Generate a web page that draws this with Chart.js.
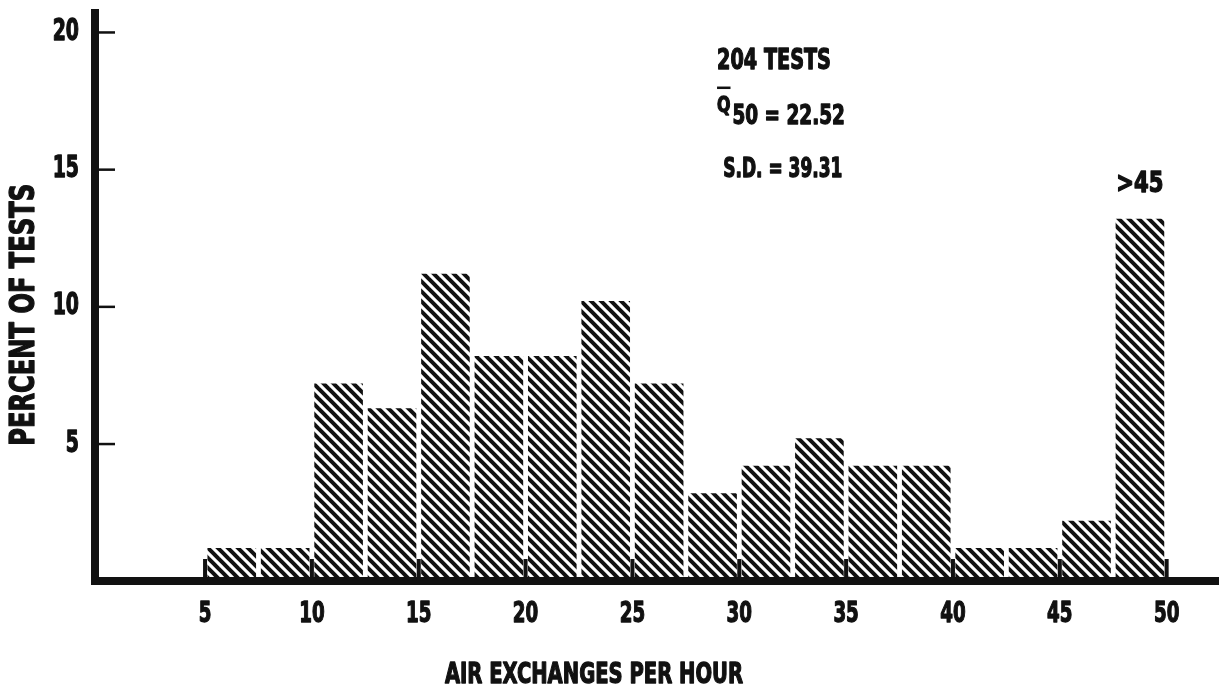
<!DOCTYPE html>
<html lang="en">
<head>
<meta charset="UTF-8">
<title>Air Exchanges per Hour</title>
<script src="https://cdn.jsdelivr.net/npm/chart.js"></script>
<style>
  html, body { margin: 0; padding: 0; background: #fff; }
  #wrap { width: 1219px; height: 684px; position: relative; }
</style>
</head>
<body>
<div id="wrap"><canvas id="histChart"></canvas></div>
<script>
// histogram bins, 2.5 air exchanges wide; last bin is the ">45" group
const binStarts = [5, 7.5, 10, 12.5, 15, 17.5, 20, 22.5, 25, 27.5, 30, 32.5, 35, 37.5, 40, 42.5, 45, 47.5];
const binWidth = 2.5;
const percentTests = [1.2, 1.2, 7.2, 6.3, 11.2, 8.2, 8.2, 10.2, 7.2, 3.2, 4.2, 5.2, 4.2, 4.2, 1.2, 1.2, 2.2, 13.2];
const xTickValues = [5, 10, 15, 20, 25, 30, 35, 40, 45, 50];
const yTickValues = [5, 10, 15, 20];
const statTests = '204 TESTS';
const statMean = '50 = 22.52';
const statSD = 'S.D. = 39.31';
const lastBinLabel = '>45';
const xTitle = 'AIR EXCHANGES PER HOUR';
const yTitle = 'PERCENT OF TESTS';

const FONT = '"Liberation Sans Narrow", "DejaVu Sans Condensed", "Roboto Condensed", Arial, sans-serif';
const INK = '#111';

// diagonal hatching like the printed figure
function makeHatch() {
    const s = 10;
    const tile = document.createElement('canvas');
    tile.width = s;
    tile.height = s;
    const c = tile.getContext('2d');
    c.strokeStyle = INK;
    c.lineWidth = 4;
    c.lineCap = 'square';
    for (const off of [-s, 0, s]) {
        c.beginPath();
        c.moveTo(off, 0);
        c.lineTo(off + s, s);
        c.stroke();
    }
    return c.createPattern(tile, 'repeat');
}

// the original lettering is a very condensed heavy face:
// squeeze it horizontally and thicken it a little with a stroke
function squeezeText(ctx, text, x, y, size, sx, align, baseline) {
    ctx.save();
    ctx.font = 'bold ' + size + 'px ' + FONT;
    ctx.textAlign = align || 'left';
    ctx.textBaseline = baseline || 'alphabetic';
    ctx.translate(x, y);
    ctx.scale(sx, 1);
    ctx.lineWidth = 1.3;
    ctx.strokeStyle = INK;
    ctx.lineJoin = 'round';
    ctx.fillText(text, 0, 0);
    ctx.strokeText(text, 0, 0);
    const w = ctx.measureText(text).width * sx;
    ctx.restore();
    return w;
}

const decorations = {
    id: 'decorations',
    afterDraw(chart) {
        const { ctx, chartArea, scales: { x, y } } = chart;
        ctx.save();
        ctx.fillStyle = INK;

        // short tick marks pointing into the plot
        xTickValues.forEach(v => {
            const px = x.getPixelForValue(v);
            ctx.fillRect(px - 2, chartArea.bottom - 22, 4, 22);
        });
        yTickValues.forEach(v => {
            const py = y.getPixelForValue(v);
            ctx.fillRect(chartArea.left + 4, py - 1, 16, 2.5);
        });

        // tick labels
        xTickValues.forEach(v => {
            squeezeText(ctx, String(v), x.getPixelForValue(v), chartArea.bottom + 41, 29, 0.7, 'center');
        });
        yTickValues.forEach(v => {
            squeezeText(ctx, String(v), chartArea.left - 16, y.getPixelForValue(v), 30, 0.7, 'right', 'middle');
        });

        // axis titles
        ctx.save();
        ctx.translate(25, y.getPixelForValue(9.7));
        ctx.rotate(-Math.PI / 2);
        squeezeText(ctx, yTitle, 0, 0, 34, 0.79, 'center', 'middle');
        ctx.restore();
        squeezeText(ctx, xTitle, x.getPixelForValue(23.2), 683, 29, 0.75, 'center');

        // stats block
        squeezeText(ctx, statTests, x.getPixelForValue(28.96), y.getPixelForValue(18.67), 28.5, 0.75);
        const qx = x.getPixelForValue(28.96);
        const qw = squeezeText(ctx, 'Q', qx, y.getPixelForValue(17.1), 22, 0.8);
        ctx.fillRect(qx, y.getPixelForValue(18.02), qw, 2.5);
        squeezeText(ctx, statMean, qx + qw + 2, y.getPixelForValue(16.66), 27, 0.76);
        squeezeText(ctx, statSD, x.getPixelForValue(29.25), y.getPixelForValue(14.73), 27, 0.7);

        // label over the open-ended last bin
        const last = binStarts.length - 1;
        squeezeText(ctx, lastBinLabel, x.getPixelForValue(binStarts[last] + binWidth / 2),
            y.getPixelForValue(percentTests[last]) - 27, 28, 0.84, 'center');
        ctx.restore();
    }
};

new Chart(document.getElementById('histChart'), {
    type: 'bar',
    data: {
        datasets: [{
            data: binStarts.map((s, i) => ({ x: s + binWidth / 2, y: percentTests[i] })),
            backgroundColor: makeHatch(),
            borderWidth: 0,
            barPercentage: 0.91,
            categoryPercentage: 1
        }]
    },
    options: {
        responsive: true,
        maintainAspectRatio: false,
        animation: false,
        layout: { padding: { top: 13, left: 0, right: 0, bottom: 0 } },
        plugins: {
            legend: { display: false },
            tooltip: { enabled: false }
        },
        scales: {
            x: {
                type: 'linear',
                min: -0.15,
                max: 52.45,
                offset: false,
                z: 1,
                afterBuildTicks: s => { s.ticks = xTickValues.map(v => ({ value: v })); },
                afterFit: s => { s.height = 103; s.paddingLeft = 0; s.paddingRight = 0; },
                grid: { display: false, drawTicks: false, offset: false },
                border: { display: true, width: 8, color: INK },
                ticks: { display: false }
            },
            y: {
                min: 0,
                max: 20.7,
                z: 1,
                afterBuildTicks: s => { s.ticks = yTickValues.map(v => ({ value: v })); },
                afterFit: s => { s.width = 95; s.paddingTop = 0; s.paddingBottom = 0; },
                grid: { display: false, drawTicks: false },
                border: { display: true, width: 8, color: INK },
                ticks: { display: false }
            }
        }
    },
    plugins: [decorations]
});
</script>
</body>
</html>
